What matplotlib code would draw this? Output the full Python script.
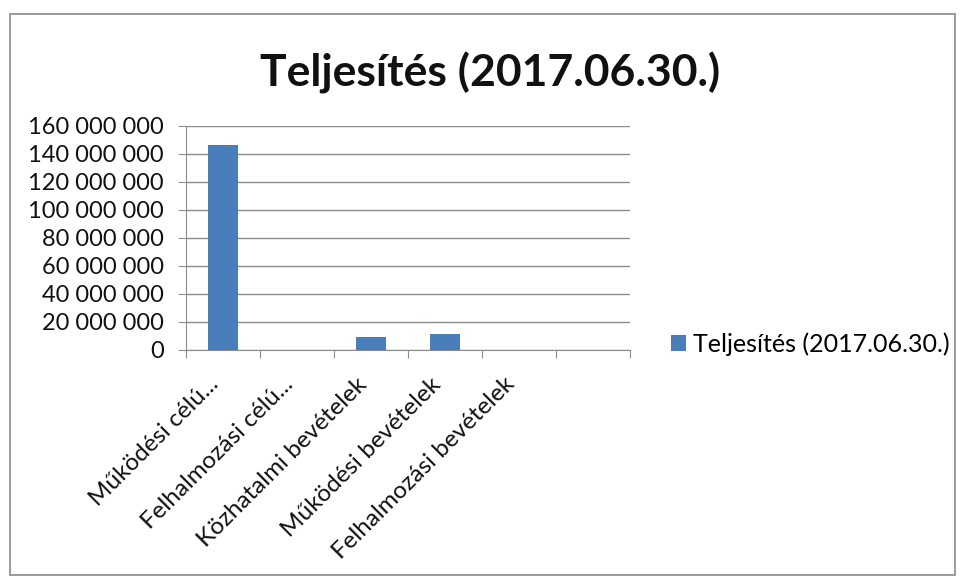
import matplotlib
matplotlib.use("Agg")
import matplotlib.pyplot as plt
from matplotlib.patches import Rectangle, Patch
from matplotlib.ticker import FuncFormatter

categories = ["Működési célú...", "Felhalmozási célú...", "Közhatalmi bevételek",
              "Működési bevételek", "Felhalmozási bevételek", ""]
values = [146500000, 0, 9500000, 11500000, 0, 0]
yticks = [0, 20000000, 40000000, 60000000, 80000000, 100000000, 120000000, 140000000, 160000000]
series_name = "Teljesítés (2017.06.30.)"
title = "Teljesítés (2017.06.30.)"

plt.rcParams['font.family'] = ['Lato', 'DejaVu Sans']

W, H = 962, 583
fig = plt.figure(figsize=(W / 100, H / 100), dpi=100)
fig.patch.set_facecolor("white")
fig.add_artist(Rectangle((10 / W, 8 / H), 945 / W, 561 / H, transform=fig.transFigure,
                         fill=False, edgecolor="#8a8a8a", linewidth=1.2))

ax = fig.add_axes([186 / W, 1 - 350 / H, (630 - 186) / W, (350 - 126) / H])
x = list(range(len(categories)))
ax.bar(x, values, width=0.4, color="#4a7ebb", zorder=3, label=series_name)
ax.set_xlim(-0.5, len(categories) - 0.5)
ax.set_ylim(0, 160000000)
ax.set_yticks(yticks)
ax.yaxis.set_major_formatter(FuncFormatter(lambda v, p: f"{int(v):,}".replace(",", " ")))
ax.grid(axis="y", color="#8c8c8c", linewidth=1.0, zorder=0)
ax.set_xticks([i - 0.5 for i in range(len(categories) + 1)], minor=False)
ax.set_xticklabels([])
ax.set_xticks(x, minor=True)
ax.set_xticklabels(categories, minor=True, rotation=45, ha="right", va="top",
                   fontsize=17.5, color="#111111")
ax.tick_params(axis="x", which="major", length=6, color="#8c8c8c", direction="out")
ax.tick_params(axis="x", which="minor", length=0, pad=17)
ax.tick_params(axis="y", length=6, color="#8c8c8c", labelsize=17, labelcolor="#111111", pad=10)
for s in ["top", "right"]:
    ax.spines[s].set_visible(False)
for s in ["left", "bottom"]:
    ax.spines[s].set_color("#8c8c8c")
ax.set_facecolor("white")

fig.text(490 / W, 1 - 73 / H, title, ha="center", va="center", fontsize=32,
         fontweight="bold", color="#111111")

fig.legend(handles=[Patch(facecolor="#4a7ebb", label=series_name)],
           loc="center left", bbox_to_anchor=(649 / W, 1 - 344 / H), frameon=False,
           fontsize=18, handlelength=0.6, handleheight=0.6, handletextpad=0.25)

fig.savefig("out.png", dpi=100)
